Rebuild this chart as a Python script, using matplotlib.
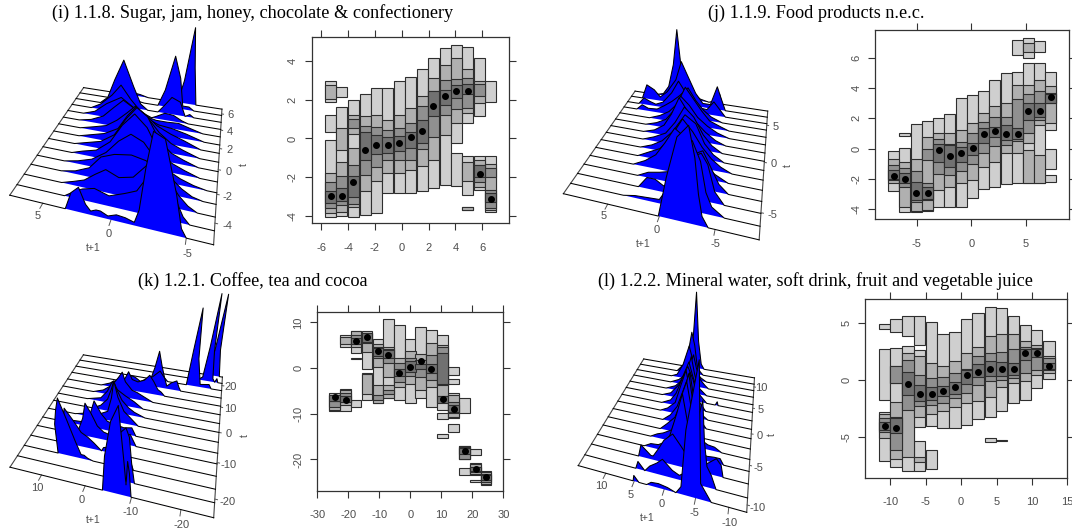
# -*- coding: utf-8 -*-
import matplotlib
matplotlib.use('Agg')
import matplotlib.pyplot as plt
from mpl_toolkits.mplot3d import proj3d
from mpl_toolkits.mplot3d.art3d import Poly3DCollection

W, H = 1072, 529
plt.rcParams['font.family'] = ['Liberation Sans', 'DejaVu Sans']
plt.rcParams['axes.unicode_minus'] = False

# ---------- (i) hdr columns ----------
I_T = [-5.3, -4.48, -3.61, -2.74, -1.89, -1.04, -0.17, 0.67, 1.52, 2.36, 3.23, 4.08, 4.93, 5.8, 6.64]
I_MODE = [-3, -3, -2.25, -0.62, -0.33, -0.33, -0.21, 0.09, 0.38, 1.71, 2.18, 2.47, 2.47, -1.83, -3.13]
I_L1 = [[(1.9, 3.0), (0.36, 1.24), (-4.05, -0.08)], [(2.17, 2.65), (-4.0, 1.64)], [(-4.05, 2.02)],
        [(-3.97, 2.3)], [(-3.84, 2.6)], [(-2.85, 2.64)], [(-2.85, 3.0)], [(-2.85, 3.18)], [(-2.73, 3.63)],
        [(-2.56, 4.2)], [(-2.42, 4.71)], [(-0.22, 4.87), (-2.49, -0.73)],
        [(0.81, 4.77), (-2.92, -0.92), (-3.73, -3.54)], [(1.16, 4.18), (-2.68, -0.92)],
        [(1.87, 3.0), (-3.8, -0.92)]]
I_L2 = [[(2.07, 2.76), (-3.85, -1.81)], [(-0.6, 0.55), (-3.8, -1.2)], [(0.25, 1.24), (-3.55, -0.5)],
        [(-2.73, 1.17)], [(-2.2, 1.24)], [(-1.78, 0.98)], [(-1.78, 1.24)], [(-1.66, 1.59)], [(-1.42, 2.18)],
        [(-1.09, 3.16)], [(0.17, 3.83)], [(0.81, 4.2)], [(1.33, 3.63), (-2.2, -1.2), (-3.7, -3.57)],
        [(1.85, 3.0), (-2.5, -1.12)], [(-3.7, -1.3)]]
I_L3 = [[(-3.6, -2.25)], [(-3.45, -1.95)], [(0.52, 1.03), (-3.4, -1.38)], [(-1.87, 0.67)], [(-1.47, 0.6)],
        [(-1.12, 0.43)], [(-1.12, 0.57)], [(-1.12, 0.81)], [(-0.57, 1.71)], [(0.09, 2.44)], [(1.24, 3.04)],
        [(1.55, 3.07)], [(1.59, 3.16)], [(2.2, 2.85), (-2.25, -1.38)], [(-2.02, -1.55), (-3.63, -2.68)]]
I_L4 = [[(-3.33, -2.73)], [(-3.25, -2.55)], [(-3.05, -1.93)], [(-1.09, 0.35)], [(-0.81, 0.17)], [(-0.73, 0.09)],
        [(-0.64, 0.14)], [(-0.47, 0.35)], [(-0.22, 0.98)], [(1.17, 2.44)], [(1.73, 2.5)], [(2.12, 2.75)],
        [(2.3, 2.82)], [(-2.0, -1.4)], [(-3.32, -2.85)]]

# ---------- (j) hdr columns ----------
J_T = [-7.12, -6.1, -5.06, -4.02, -2.98, -1.96, -0.92, 0.12, 1.13, 2.18, 3.22, 4.26, 5.24, 6.29, 7.33]
J_MODE = [-1.78, -1.98, -2.9, -2.9, -0.09, -0.48, -0.31, 0.07, 0.99, 1.19, 0.99, 0.99, 2.5, 2.5, 3.43]
J_L1 = [[(-2.77, -0.15)], [(0.81, 1.01), (-4.2, 0.02)], [(-4.2, 1.6)], [(-4.09, 1.85)], [(-3.82, 2.0)],
        [(-3.82, 2.26)], [(-3.82, 3.36)], [(-3.27, 3.54)], [(-2.68, 3.8)], [(-2.53, 4.53)], [(-2.35, 4.97)],
        [(6.18, 7.16), (-2.24, 5.08)], [(6.0, 7.32), (-2.24, 5.63)], [(6.4, 7.1), (-2.29, 5.63)],
        [(1.23, 5.08), (-1.34, -0.04), (-2.18, -1.76)]]
J_L2 = [[(-2.29, -0.7)], [(-3.82, -0.9)], [(-4.1, -0.7)], [(-4.04, 0.79)], [(-2.73, 1.01)], [(-2.5, 1.05)],
        [(-2.24, 1.23)], [(-2.07, 1.71)], [(-1.23, 2.33)], [(-0.86, 2.81)], [(-0.31, 2.99)], [(-0.31, 4.2)],
        [(0.35, 4.2), (6.4, 6.95), (-2.24, -0.1)], [(1.56, 4.53), (-2.24, -0.42)], [(1.71, 4.15)]]
J_L3 = [[(-2.07, -1.08)], [(-2.5, -1.25)], [(-3.49, -1.45)], [(-0.75, -0.04), (-3.38, -2.29)], [(-1.67, 0.62)],
        [(-1.74, 0.31)], [(-1.45, 0.46)], [(-1.01, 1.01)], [(-0.31, 1.78)], [(0.18, 2.11)], [(0.24, 2.11)],
        [(0.53, 3.25)], [(1.01, 3.6)], [(1.89, 3.8)], [(2.99, 3.69)]]
J_L4 = [[(-2.02, -1.41)], [(-2.29, -1.63)], [(-3.38, -2.18)], [(-3.3, -2.5)], [(-0.86, 0.31)], [(-1.19, 0.24)],
        [(-0.86, 0.13)], [(-0.42, 0.4)], [(0.35, 1.34)], [(0.79, 1.41)], [(0.57, 1.56)], [(0.62, 1.34)],
        [(1.89, 2.99)], [(2.07, 2.99)], [(3.03, 3.6)]]

# ---------- (k) hdr columns ----------
K_T = [-24.4, -20.9, -17.5, -14.0, -10.4, -7.1, -3.5, 0, 3.3, 6.8, 10.4, 14, 17.5, 21.1, 24.4]
K_MODE = [-6.3, -6.9, 6, 6.9, 3.7, 2.85, -1, 0.15, 1.5, -0.15, -6.8, -9, -18.2, -22.1, -23.9]
K_L1 = [[(-9.5, -5.4)], [(4.7, 7.15), (-9.35, -4.6)], [(3.2, 8.2), (1.9, 2.3), (-8.6, -6.9)],
        [(-0.1, 8.0), (-6.9, -1.0)], [(-7.7, 6.3)], [(-6.6, 10.7)], [(-6.9, 9.5)], [(-7.7, 6.3)], [(-6.6, 9.0)],
        [(-8.6, 8.3)], [(-9.2, 7.2), (-11.2, -9.8), (-15.2, -14.5)],
        [(-1.6, 0.3), (-3.5, -2.4), (-11.0, -5.4), (-13.9, -12.3)],
        [(-9.9, -6.6), (-20.0, -17.0), (-23.4, -21.8)], [(-19.1, -17.8), (-23.4, -20.7), (-24.9, -24.4)],
        [(-25.5, -22.6)]]
K_L2 = [[(-9.2, -5.9)], [(5.2, 6.7), (-8.1, -4.8)], [(4.7, 8.0)], [(3.6, 7.6), (-5.7, -1.2)],
        [(0.15, 5.25), (-7.7, -3.6)], [(-2.0, 4.7), (-6.6, -3.7)], [(-4.2, 2.3)], [(-3.4, 3.7)], [(-4.7, 3.0)],
        [(-4.2, 5.4)], [(-6.1, 5.0)], [(-10.7, -5.9)], [(-19.9, -17.1)], [(-23.2, -21.0)], [(-25.3, -22.7)]]
K_L3 = [[(-8.5, -7.15)], [(-7.5, -5.4)], [(5.25, 7.2)], [(5.5, 7.7)], [(2.3, 4.7), (-7.0, -5.9)],
        [(1.2, 4.2), (-5.7, -4.7)], [(-3.0, 1.2)], [(-1.75, 2.1)], [(-1.9, 1.75)], [(-2.6, 2.85)], [(-3.7, 4.5)],
        [(-9.9, -7.4)], [(-19.8, -17.2)], [(-22.7, -21.6)], [(-24.9, -23.1)]]
K_L4 = [[(-7.1, -5.8)], [(-7.4, -6.1)], [(5.25, 6.6)], [(5.8, 7.6)], [(2.6, 4.3)], [(2.1, 3.9)], [(-1.75, -0.3)],
        [(-0.8, 1.6)], [(-0.3, 0.9)], [(-1.0, 0.9)], [(-3.4, 3.4), (-7.7, -6.1)], [(-9.6, -8.1)],
        [(-18.8, -17.6)], [(-22.5, -21.7)], [(-24.5, -23.4)]]

# ---------- (l) hdr columns ----------
L_T = [-10.8, -9.2, -7.5, -5.85, -4.15, -2.55, -0.85, 0.8, 2.4, 4.1, 5.75, 7.45, 9.05, 10.7, 12.4]
L_MODE = [-4.03, -4.27, -0.41, -1.23, -1.23, -0.96, -0.67, 0.38, 0.64, 0.94, 0.94, 0.94, 2.34, 2.34, 1.2]
L_L1 = [[(4.47, 4.85), (-1.78, 2.66), (-7.13, -2.87)], [(4.2, 5.35), (-7.7, 2.75)], [(3.8, 5.6), (-8.0, 2.95)],
        [(3.0, 5.6), (-4.12, 2.6), (-8.0, -5.4)], [(-4.06, 5.03), (-7.84, -6.2)], [(-4.27, 3.98)], [(-4.27, 4.15)],
        [(-3.98, 5.32)], [(-3.48, 5.88)], [(-3.25, 6.4), (-5.47, -5.15)], [(-2.78, 6.26), (-5.4, -5.32)],
        [(-2.02, 5.6)], [(-1.78, 4.77)], [(-0.7, 4.39)], [(0.03, 3.42)]]
L_L2 = [[(-5.15, -3.04)], [(-0.32, 1.23), (-7.0, -2.0)], [(-6.8, 2.37)], [(-3.3, 2.08), (-7.2, -6.75)],
        [(-3.0, 1.43)], [(-2.78, 1.2)], [(-2.37, 1.6)], [(-2.08, 2.37)], [(-1.84, 2.9)], [(-1.49, 3.83)],
        [(-0.67, 3.98)], [(-0.32, 3.98)], [(-0.09, 3.42)], [(0.38, 3.04)], [(0.61, 2.08)]]
L_L3 = [[(-4.56, -3.39)], [(-0.32, 1.23), (-6.2, -3.25)], [(-2.66, 1.72)], [(-2.3, 0.38)], [(-2.2, 0.12)],
        [(-2.08, 0.26)], [(-1.64, 0.61)], [(-1.2, 0.94)], [(-0.47, 2.1)], [(-0.12, 2.37)], [(-0.03, 2.4)],
        [(0.12, 2.66)], [(0.61, 2.84)], [(0.85, 2.75)], [(0.85, 1.87)]]
L_L4 = [[(-4.4, -3.68)], [(-4.7, -3.4)], [(-1.35, 0.7)], [(-1.84, -0.47)], [(-1.78, -0.67)], [(-1.43, -0.56)],
        [(-1.26, -0.2)], [(-0.41, 0.85)], [(0.2, 1.37)], [(0.32, 1.64)], [(0.32, 1.58)], [(0.38, 1.49)],
        [(1.73, 2.72)], [(1.96, 2.66)], [(0.94, 1.43)]]

# ---------- ridges: t+1 value and density, one pair of lists per t, front to back ----------
I_YS = [[3.3, 2.6, 2.0, 1.7, 1.4, 1.0, 0.7, 0.2, -0.4, -1.0, -1.6, -1.9, -2.2, -2.5, -3.1, -4.0, -4.6, -5.0],
        [3.8, 3.0, 2.3, 1.4, 0.4, -0.7, -1.5, -2.1, -2.8, -3.4, -4.0, -4.6, -5.1],
        [4.5, 3.5, 2.6, 1.7, 0.9, 0, -1, -2, -2.6, -3.4, -4.1, -4.8, -5.5],
        [5, 3.8, 2.6, 1.6, 0.6, -0.6, -1.6, -2.6, -3.4, -4.2, -5, -5.8],
        [5.2, 4, 2.8, 1.6, 0.6, -0.3, -1.2, -2.2, -3.2, -4, -5, -6],
        [5, 4, 2.8, 1.6, 0.6, -0.3, -1.2, -2.2, -3.2, -4.2, -5.4],
        [5.2, 4, 2.8, 1.6, 0.6, -0.2, -1.0, -2.0, -3.0, -4, -5.2],
        [5.2, 4, 2.8, 1.6, 0.8, 0.1, -0.8, -1.8, -2.8, -3.8, -5.2],
        [5.5, 4.2, 3, 2, 1.1, 0.4, -0.4, -1.4, -2.6, -3.8, -5.2],
        [6, 4.8, 3.6, 2.6, 1.7, 0.8, -0.2, -1.4, -2.6, -3.8, -5.4],
        [6, 4.8, 3.6, 2.2, 1.2, 0.2, -1, -2, -3, -4.2, -5.2],
        [5.6, 4.6, 3.4, 2.5, 1.6, 0.6, -0.4, -0.8, -1.6, -2.4, -3.2, -3.8],
        [5, 4.2, 3.4, 2.5, 1.6, 0.9, 0.2, -0.8, -1.3, -2, -2.8, -3.4, -3.8, -4.2],
        [3.6, 2.6, 1.6, 0.8, -0.6, -1.2, -1.85, -2.5, -3, -3.6, -4.1],
        [3.4, 2.5, 1.4, 0.6, -2.4, -2.8, -3.15, -3.6, -4.2]]
I_ZS = [[0, .22, .30, .12, .05, .08, .08, .04, .08, .07, .04, .20, .62, .92, .88, .45, .10, 0],
        [0, .08, .14, .18, .13, .20, .26, .42, .55, .48, .25, .08, 0],
        [0, .05, .10, .20, .28, .22, .26, .44, .42, .30, .16, .06, 0],
        [0, .04, .12, .28, .34, .37, .34, .26, .20, .10, .03, 0],
        [0, .04, .10, .22, .38, .48, .42, .24, .14, .08, .03, 0],
        [0, .05, .10, .24, .46, .60, .48, .22, .12, .06, 0],
        [0, .05, .10, .22, .44, .58, .50, .25, .12, .06, 0],
        [0, .05, .10, .20, .38, .50, .40, .24, .13, .07, 0],
        [0, .05, .10, .20, .32, .42, .34, .22, .14, .08, 0],
        [0, .04, .12, .26, .38, .30, .20, .13, .11, .07, 0],
        [0, .06, .20, .32, .22, .12, .08, .08, .09, .04, 0],
        [0, .08, .24, .40, .22, .06, 0, .03, .10, .09, .03, 0],
        [0, .10, .38, .66, .32, .08, 0, 0, .10, .25, .20, 0, .04, 0],
        [0, .06, .02, 0, 0, .25, .73, .45, .05, .05, 0],
        [0, .05, .03, 0, 0, .35, 1.05, .55, 0]]

J_YS = [[0.1, -0.8, -1.7, -2.5, -3, -3.4, -3.8, -4.4],
        [4, 2.8, 1.6, 0.4, -0.5, -1.4, -2.5, -3.2, -3.8, -4.4, -5.6],
        [3, 2, 1.2, 0.4, -0.6, -1.6, -2.4, -3, -3.6, -4.4, -5.4],
        [3.6, 2.4, 1.2, 0, -1, -2, -2.9, -3.8, -4.6, -5.6],
        [4.6, 3.2, 2, 1, 0, -1, -2, -3, -4, -5.4],
        [4.6, 3.4, 2, 1, -0.4, -1.4, -2.4, -3.4, -4.4, -5.6],
        [4.8, 3.4, 2.2, 1, -0.3, -1.4, -2.4, -3.4, -4.6],
        [5, 3.6, 2.2, 1.1, 0.1, -0.9, -2, -3, -4.2],
        [5.4, 4, 2.8, 1.9, 1, 0, -1, -2, -3.2, -4.4],
        [5.6, 4.2, 3, 2, 1.2, 0.2, -0.8, -2, -3.2, -4.6],
        [5.6, 4.2, 3, 2, 1, 0, -1, -2, -3.4, -4.4],
        [7.8, 7, 6.2, 5, 4, 3, 2, 1, 0, -1, -2, -3.4],
        [8, 7.2, 6.4, 5.6, 4.6, 3.4, 2.5, 1.5, 0.6, -0.2, -1.2, -2, -2.8, -3.6],
        [8, 7.2, 6.2, 5.4, 4.4, 3.2, 2.5, 1.6, 0.6, -0.4, -1.4, -2.1, -2.7, -3.4],
        [6.4, 5.4, 4.6, 3.9, 3.4, 2.9, 2, 1.2, 0.2, -1, -1.8, -2.3, -2.8]]
J_ZS = [[0, .45, .82, .92, .68, .35, .12, 0],
        [0, .03, .04, .05, .22, .50, .72, .55, .25, .10, 0],
        [0, .14, .14, .08, .14, .30, .48, .52, .42, .14, 0],
        [0, .07, .10, .14, .24, .38, .44, .26, .10, 0],
        [0, .08, .18, .34, .52, .44, .30, .18, .08, 0],
        [0, .07, .15, .28, .54, .42, .26, .14, .06, 0],
        [0, .06, .14, .28, .50, .42, .20, .08, 0],
        [0, .06, .14, .30, .50, .40, .20, .08, 0],
        [0, .05, .14, .30, .52, .36, .24, .14, .05, 0],
        [0, .05, .12, .26, .46, .36, .22, .12, .05, 0],
        [0, .06, .14, .26, .50, .36, .22, .10, .04, 0],
        [0, .08, .04, .05, .12, .20, .30, .42, .26, .14, .06, 0],
        [0, .10, .06, .03, .08, .24, .42, .26, .10, .08, .07, .20, .10, 0],
        [0, .22, .16, .06, .16, .36, .62, .42, .20, .06, .06, .34, .18, 0],
        [0, .03, .16, .50, .97, .50, .26, .10, .03, 0, .04, .16, 0]]

K_YS = [[-3.8, -5, -6.6, -8, -8.6, -8.9, -9.3, -9.6, -9.9],
        [-3.6, -5, -6.6, -8.2, -8.8, -9.2, -9.8],
        [9, 8, 7, 6, 5, 4, 3.2, 2.5, 1.7, 0.5, -6.5, -7.5, -8.8],
        [9, 8, 7, 5.4, 4, 2.6, 1.2, -0.4, -1, -3, -5, -6.5, -7.2],
        [7, 6, 4.8, 3.7, 2.6, 1.4, 0, -1.6, -3.4, -5, -6.4, -7.8],
        [11, 9, 6, 4.5, 2.85, 1.4, 0, -2, -4, -6, -7],
        [10, 6, 3, 1, -0.2, -1, -1.8, -3.2, -4.6, -6.8],
        [6.4, 4, 2, 0.8, 0.1, -0.6, -1.8, -3.4, -5, -7.8],
        [9, 5, 3, 1.5, 0.2, -1.8, -4.2, -6.6],
        [8.4, 5.4, 2.8, 0.9, -0.2, -1, -2.8, -4.2, -8.6],
        [7.2, 4.6, 2.8, 1.4, 0, -1, -2, -3.6, -5.4, -6.8, -8, -9.2, -10.2, -11.2],
        [0.6, -0.4, -1.6, -2.4, -3.6, -5.4, -7, -9, -10.4, -11.2, -12.4, -13.8, -14.6, -15.2],
        [-6, -7, -8, -9, -10, -11, -16.4, -16.9, -17.5, -18.6, -20.2, -21.4, -22.6, -23.4],
        [-17.4, -18.4, -19.4, -20.6, -21, -21.2, -22.3, -23.5, -24.2, -24.6, -25.1],
        [-22.2, -22.6, -22.9, -24, -25.4]]
K_ZS = [[0, .40, .72, .85, .40, .14, .40, .28, 0],
        [0, .30, .50, .58, .50, .24, 0],
        [0, .35, .50, .62, .42, .20, .05, .05, .02, 0, 0, .20, 0],
        [0, .25, .42, .30, .18, .14, .08, 0, .05, .08, .10, .08, 0],
        [0, .10, .22, .40, .30, .16, .10, .08, .08, .10, .14, 0],
        [0, .04, .05, .14, .34, .20, .12, .10, .08, .10, 0],
        [0, .05, .07, .12, .30, .50, .32, .16, .10, 0],
        [0, .06, .16, .30, .40, .30, .18, .10, .05, 0],
        [0, .05, .16, .30, .20, .14, .08, 0],
        [0, .05, .14, .26, .34, .22, .12, .10, 0],
        [0, .05, .10, .14, .16, .26, .16, .14, .18, .26, .18, .08, .05, 0],
        [0, .10, .10, .08, .04, .10, .14, .24, .15, .04, .10, .14, .05, 0],
        [0, .18, .42, .22, .05, 0, 0, .50, 1.0, .40, .04, .05, .06, 0],
        [0, .10, 0, .05, .50, 1.13, .45, .05, 0, .06, 0],
        [0, .45, 1.10, .40, 0]]

L_YS = [[5.2, 4.7, 4.2, 2.9, 2, 0.8, -0.6, -1.9, -2.7, -3.2, -4.0, -4.8, -5.4, -6.4, -7.4],
        [5.6, 4.8, 4, 2.9, 1.6, 0.6, -0.8, -1.9, -2.6, -3.4, -4.3, -5, -5.8, -6.6, -7.8],
        [6, 5, 3.6, 3.2, 2, 1, -0.4, -1.6, -2.7, -3.8, -5, -6, -6.9, -7.8, -8.6],
        [5.8, 4.4, 3, 2, 0.8, -0.4, -1.2, -2, -3, -4.4, -5.4, -6.6, -7.6, -8.4],
        [5.4, 4, 2.8, 1.2, 0.2, -0.6, -1.2, -2, -3, -4, -5.2, -6.4, -7.8],
        [4.2, 2.8, 1.2, 0, -1, -2, -3, -4.2],
        [4.4, 2.8, 1.4, 0.2, -0.7, -1.6, -2.6, -4.3],
        [5.6, 4, 2.4, 1.2, 0.4, -0.4, -1.8, -2.8, -4.2],
        [6, 4, 2.8, 1.6, 0.6, -0.4, -1.8, -3.4],
        [6.6, 4.6, 2.8, 1.8, 0.9, 0.1, -1.2, -3.2, -5, -5.3, -5.6],
        [6.4, 4.2, 2.6, 1.6, 0.94, 0.1, -0.8, -2.8],
        [6, 4, 2.6, 1.6, 0.94, 0.2, -1, -2, -2.8],
        [6.4, 5, 3.6, 2.34, 1.2, 0.2, -0.6, -2],
        [5.6, 4, 3, 2.34, 1.6, 0.8, 0, -0.8],
        [3.6, 2.8, 2.5, 2.2, 1.2, 0.2, -0.6]]
L_ZS = [[0, .08, 0, 0, .05, .06, .04, 0, .10, .60, .90, .50, .20, .10, 0],
        [0, .10, 0, .08, .14, .20, .10, .06, .10, .40, .70, .45, .24, .16, 0],
        [0, .15, .05, .05, .16, .26, .34, .24, .14, .08, .08, .14, .20, .14, 0],
        [0, .05, .06, .10, .20, .42, .58, .36, .16, .10, .06, .07, .07, 0],
        [0, .05, .08, .14, .30, .50, .60, .40, .16, .10, .06, .05, 0],
        [0, .08, .18, .36, .60, .32, .12, 0],
        [0, .08, .20, .40, .55, .30, .12, 0],
        [0, .05, .14, .36, .50, .30, .14, .06, 0],
        [0, .06, .16, .34, .48, .36, .12, 0],
        [0, .05, .18, .32, .46, .32, .12, 0, 0, .05, 0],
        [0, .06, .16, .30, .46, .26, .10, 0],
        [0, .06, .14, .28, .42, .26, .10, .04, 0],
        [0, .04, .20, .46, .24, .10, .05, 0],
        [0, .12, .30, .58, .42, .14, .05, 0],
        [0, .10, .32, 1.0, .42, .08, 0]]

# ---------- text and axis labels ----------
TITLES = ['(i) 1.1.8. Sugar, jam, honey, chocolate & confectionery', '(j) 1.1.9. Food products n.e.c.',
          '(k) 1.2.1. Coffee, tea and cocoa', '(l) 1.2.2. Mineral water, soft drink, fruit and vegetable juice']

LEVEL_COLORS = ['#cfcfcf', '#b0b0b0', '#909090', '#717171']
BLUE = '#0000ff'
TEXT = '#4d4d4d'


def px_rect(x0, x1, y0, y1):
    return [x0 / W, 1 - y1 / H, (x1 - x0) / W, (y1 - y0) / H]


def plot_hdr(fig, rect, listT, listMode, listLevels, xlim, ylim, xticks, yticks):
    ax = fig.add_axes(px_rect(*rect))
    width = abs(listT[1] - listT[0]) * 0.995
    for color, listCol in zip(LEVEL_COLORS, listLevels):
        for t, listSeg in zip(listT, listCol):
            for lo, hi in listSeg:
                ax.bar(t, hi - lo, bottom=lo, width=width, color=color, edgecolor='#2e2e2e', linewidth=0.8)
    ax.scatter(listT, listMode, s=16, color='k', zorder=5)
    ax.set_xlim(*xlim)
    ax.set_ylim(*ylim)
    ax.set_xticks(xticks)
    ax.set_yticks(yticks)
    ax.tick_params(top=True, right=True, direction='out', length=5, width=0.8, color='#333333',
                   labelsize=8, labelcolor=TEXT)
    ax.tick_params(axis='x', pad=9)
    ax.tick_params(axis='y', pad=5)
    for label in ax.get_yticklabels():
        label.set_rotation(90)
        label.set_va('center')
    for spine in ax.spines.values():
        spine.set_color('#333333')
        spine.set_linewidth(0.9)
    return ax


def label_3d(fig, ax, x, y, strText):
    # project the floor position by hand, the text itself stays on the figure
    px, py, _ = proj3d.proj_transform(x, y, 0, ax.get_proj())
    dx, dy = ax.transData.transform((px, py))
    fig.text(dx / W, dy / H, strText, color=TEXT, fontsize=8, ha='center', va='center')


def plot_ridges(fig, view, listT, listYs, listZs, ylim, zmax, gain, yticks, tticks):
    elev, azim, focal, ratio, s, tx, ty = view
    ax = fig.add_axes([0, 0, 1, 1], projection='3d', computed_zorder=False)
    vx0, vx1 = ax.viewLim.intervalx
    vy0, vy1 = ax.viewLim.intervaly
    ax.set_position([(tx + s * vx0) / W, (ty + s * vy0) / H, s * (vx1 - vx0) / W, s * (vy1 - vy0) / H])
    ax.view_init(elev, azim)
    ax.set_proj_type('persp', focal_length=focal)
    ax.set_box_aspect((ratio, 1, 0.5))
    ax.set_xticks([])
    ax.set_yticks([])
    ax.set_zticks([])
    ax.set_axis_off()

    ymin, ymax = ylim
    t0, t1 = listT[0], listT[-1]
    n = len(listT) - 1
    for k in range(n, -1, -1):
        # front rows get more height because the view squeezes them
        fGain = 1 + (gain - 1) * (1 - k / n)
        ys = [ymax] + listYs[k] + [ymin]
        zs = [0] + [z * fGain for z in listZs[k]] + [0]
        xs = [listT[k]] * len(ys)
        poly = Poly3DCollection([list(zip(xs, ys, zs))], facecolors=BLUE, edgecolors='none')
        poly.set_zorder(10 + 2 * (n - k))
        poly.set_clip_on(False)
        ax.add_collection3d(poly, autolim=False)
        ax.plot(xs, ys, zs, color='k', linewidth=0.75, zorder=11 + 2 * (n - k), clip_on=False)

    # floor frame
    ax.plot([t0, t1], [ymax, ymax], [0, 0], color='#444444', linewidth=0.8, zorder=1, clip_on=False)
    ax.plot([t0, t1], [ymin, ymin], [0, 0], color='#444444', linewidth=0.8, zorder=1, clip_on=False)
    dt = t1 - t0
    dy = ymax - ymin
    for v in yticks:
        ax.plot([t0, t0 - 0.03 * dt], [v, v], [0, 0], color='#555555', linewidth=0.7, zorder=2, clip_on=False)
    for v in tticks:
        ax.plot([v, v], [ymin, ymin - 0.012 * dy], [0, 0], color='#555555', linewidth=0.7, zorder=2, clip_on=False)
    ax.set_xlim(t0, t1)
    ax.set_ylim(ymin, ymax)
    ax.set_zlim(0, zmax)

    ax.apply_aspect()
    for v in yticks:
        label_3d(fig, ax, t0 - 0.07 * dt, v - 0.012 * dy, str(v))
    for v in tticks:
        label_3d(fig, ax, v, ymin - 0.055 * dy, str(v))
    return ax


fig = plt.figure(figsize=(W / 100, H / 100), dpi=100, facecolor='white')

# (i)
plot_ridges(fig, (38.97, 194.92, 0.211, 0.985, 1456.4, 131.7, 416.3), I_T, I_YS, I_ZS, (-6.7, 7.6), 0.953, 1.24,
            [5, 0, -5], [-4, -2, 0, 2, 4, 6])
plot_hdr(fig, (311.7, 509, 37.3, 223.3), I_T, I_MODE, [I_L1, I_L2, I_L3, I_L4], (-6.72, 8.0), (-4.4, 5.25),
         [-6, -4, -2, 0, 2, 4, 6], [-4, -2, 0, 2, 4])
# (j)
plot_ridges(fig, (37.51, 194.86, 0.218, 1.004, 1400.0, 681.0, 415.2), J_T, J_YS, J_ZS, (-8.7, 9.6), 0.916, 1.2,
            [5, 0, -5], [-5, 0, 5])
plot_hdr(fig, (875.3, 1069.3, 30, 219.3), J_T, J_MODE, [J_L1, J_L2, J_L3, J_L4], (-8.83, 9.02), (-4.66, 7.82),
         [-5, 0, 5], [-4, -2, 0, 2, 4, 6])
# (k)
plot_ridges(fig, (41.15, 194.78, 0.207, 0.989, 1470.5, 131.9, 145.6), K_T, K_YS, K_ZS, (-26.3, 17.6), 0.947, 1.31,
            [10, 0, -10, -20], [-20, -10, 0, 10, 20])
plot_hdr(fig, (317.3, 503.3, 312.3, 491), K_T, K_MODE, [K_L1, K_L2, K_L3, K_L4], (-30, 30), (-26.9, 12.2),
         [-30, -20, -10, 0, 10, 20, 30], [-20, -10, 0, 10])
# (l)
plot_ridges(fig, (46.0, 194.93, 0.178, 1.073, 1260.8, 681.0, 138.5), L_T, L_YS, L_ZS, (-12.6, 15.1), 0.756, 1.59,
            [10, 5, 0, -5, -10], [-10, -5, 0, 5, 10])
plot_hdr(fig, (865.3, 1067.3, 299.3, 478), L_T, L_MODE, [L_L1, L_L2, L_L3, L_L4], (-13.54, 15), (-8.63, 7.05),
         [-10, -5, 0, 5, 10, 15], [-5, 0, 5])

# titles
for strTitle, x, y in zip(TITLES, [52, 708, 138, 598], [13, 13, 281, 281]):
    fig.text(x / W, 1 - y / H, strTitle, family=['Liberation Serif', 'DejaVu Serif'], fontsize=13.15, color='k',
             ha='left', va='center')

# axis names of the perspective panels
for x, y in [(93, 248), (643, 244), (93, 520), (647, 518)]:
    fig.text(x / W, 1 - y / H, 't+1', fontsize=7.5, color=TEXT, ha='center', va='center')
for x, y in [(244, 165), (788, 166), (245, 436), (772, 435)]:
    fig.text(x / W, 1 - y / H, 't', fontsize=7.5, color=TEXT, ha='center', va='center', rotation=90)

fig.savefig('out.png', dpi=100)
